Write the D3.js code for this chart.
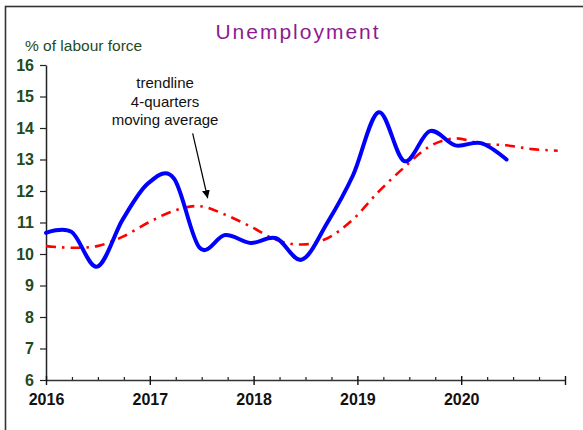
<!DOCTYPE html>
<html><head><meta charset="utf-8">
<script src="https://cdn.jsdelivr.net/npm/d3@7"></script>
<style>
html,body{margin:0;padding:0;background:#fff;}
svg{display:block;font-family:"Liberation Sans",Arial,sans-serif;}
</style></head>
<body><svg id="c" width="583" height="430"></svg>
<script>
// quarterly data, starting 2016 Q1
const startYear = 2016;
const pointStep = 0.2465; // spacing of plotted points along the date axis (years)
const unemployment = [10.67, 10.7, 9.6, 11.1, 12.25, 12.4, 10.2, 10.6, 10.35, 10.5, 9.82, 11.0, 12.5, 14.5, 12.95, 13.9, 13.45, 13.52, 13.0];
const trend = [10.25, 10.2, 10.25, 10.55, 11.0, 11.37, 11.52, 11.25, 10.87, 10.45, 10.3, 10.5, 11.1, 11.98, 12.75, 13.42, 13.67, 13.5, 13.45, 13.33, 13.28];
const yTicks = [6, 7, 8, 9, 10, 11, 12, 13, 14, 15, 16];
const xMajor = [2016, 2017, 2018, 2019, 2020, 2021];
const xLabels = ["2016", "2017", "2018", "2019", "2020", ""];
const title = "Unemployment";
const yTitle = "% of labour force";
const noteLines = ["trendline", "4-quarters", "moving average"];

const svg = d3.select("#c");
const x = d3.scaleLinear().domain([2016, 2021]).range([46, 565]);
const y = d3.scaleLinear().domain([6, 16]).range([380, 65]);

// frame
svg.append("rect").attr("x", 5.5).attr("y", 6.5).attr("width", 620).attr("height", 460)
  .attr("fill", "none").attr("stroke", "#333").attr("stroke-width", 1.6);

// title
svg.append("text").attr("x", 298).attr("y", 39).attr("text-anchor", "middle")
  .attr("fill", "#8e1b8e").attr("font-size", 21).attr("letter-spacing", 2)
  .text(title);
svg.append("text").attr("x", 25).attr("y", 51).attr("fill", "#1f4a1f")
  .attr("font-size", 15.5).text(yTitle);

// y axis
const yAx = svg.append("g").attr("transform", `translate(${x(2016)},0)`)
  .call(d3.axisLeft(y).tickValues(yTicks).tickSize(6).tickSizeOuter(0).tickPadding(6).tickFormat(d3.format("d")));
yAx.select(".domain").attr("stroke", "#222").attr("stroke-width", 1.5);
yAx.selectAll(".tick line").attr("stroke", "#222").attr("stroke-width", 1.2);
yAx.selectAll("text").attr("font-size", 16).attr("font-weight", "bold").attr("fill", "#1f4a1f")
  .attr("font-family", "Liberation Sans, Arial, sans-serif");

// x axis
const quarters = d3.range(0, 21).map(i => startYear + i * 0.25).filter(v => !xMajor.includes(v));
const xAxB = svg.append("g").attr("transform", `translate(0,${y(6)})`)
  .call(d3.axisBottom(x).tickValues(xMajor).tickSize(5).tickSizeOuter(0).tickPadding(9)
    .tickFormat((d, i) => xLabels[i]));
xAxB.select(".domain").attr("stroke", "#333").attr("stroke-width", 1.6);
xAxB.selectAll(".tick line").attr("stroke", "#111").attr("stroke-width", 1.4);
xAxB.selectAll("text").attr("font-size", 16).attr("font-weight", "bold").attr("fill", "#111")
  .attr("font-family", "Liberation Sans, Arial, sans-serif");
const xAxT = svg.append("g").attr("transform", `translate(0,${y(6)})`)
  .call(d3.axisTop(x).tickValues(xMajor).tickSize(4).tickSizeOuter(0).tickFormat(""));
xAxT.select(".domain").remove();
xAxT.selectAll(".tick line").attr("stroke", "#111").attr("stroke-width", 1.4);
const xAxM = svg.append("g").attr("transform", `translate(0,${y(6)})`)
  .call(d3.axisTop(x).tickValues(quarters).tickSize(3).tickSizeOuter(0).tickFormat(""));
xAxM.select(".domain").remove();
xAxM.selectAll(".tick line").attr("stroke", "#222").attr("stroke-width", 1.2);

// lines
const line = d3.line().x((d, i) => x(startYear + i * pointStep)).y(d => y(d)).curve(d3.curveCardinal.tension(0));
svg.append("path").datum(trend).attr("d", line).attr("fill", "none")
  .attr("stroke", "#ff0000").attr("stroke-width", 2.6).attr("stroke-dasharray", "10,6,2.5,6");
svg.append("path").datum(unemployment).attr("d", line).attr("fill", "none")
  .attr("stroke", "#0000ff").attr("stroke-width", 4).attr("stroke-linecap", "round").attr("stroke-linejoin", "round");

// annotation
const note = svg.append("text").attr("text-anchor", "middle").attr("font-size", 15).attr("fill", "#111");
noteLines.forEach((t, i) => note.append("tspan").attr("x", x(2017.147)).attr("y", 88 + i * 18.5).text(t));
svg.append("defs").append("marker").attr("id", "ah").attr("viewBox", "0 0 10 10")
  .attr("refX", 10).attr("refY", 5).attr("markerWidth", 8).attr("markerHeight", 8)
  .attr("markerUnits", "userSpaceOnUse").attr("orient", "auto")
  .append("path").attr("d", "M0,0L10,5L0,10z").attr("fill", "#000");
svg.append("line").attr("x1", x(2017.413)).attr("y1", y(13.83)).attr("x2", x(2017.558)).attr("y2", y(11.77))
  .attr("stroke", "#000").attr("stroke-width", 1.2).attr("marker-end", "url(#ah)");
</script></body></html>
